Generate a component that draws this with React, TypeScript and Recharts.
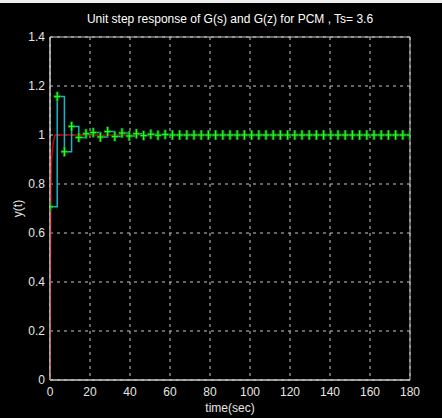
import {
  CartesianGrid,
  ComposedChart,
  Line,
  ReferenceArea,
  XAxis,
  YAxis,
} from "recharts";

const sampleTime = 3.6;

// discrete response G(z), one value per sample k*Ts (k = 0..50)
const discreteValues = [
  0.707, 1.157, 0.932, 1.035, 0.99, 1.005, 1.01, 0.992, 1.014, 0.994, 1.008, 0.996,
  1.005, 0.998, 1.003, 0.999, 1.002, 1, 1, 1, 1, 1, 1, 1, 1, 1, 1, 1, 1, 1, 1, 1, 1,
  1, 1, 1, 1, 1, 1, 1, 1, 1, 1, 1, 1, 1, 1, 1, 1, 1, 1,
];

// continuous response G(s)
const continuousTimes = [0, 0.2, 0.5, 0.8, 1.2, 1.8, 2.5, 4, 10, 180];
const continuousValues = [0, 0.45, 0.8, 0.9, 0.94, 0.975, 1.0, 1.0, 1.0, 1.0];

const xTicks = [0, 20, 40, 60, 80, 100, 120, 140, 160, 180];
const yTicks = [0, 0.2, 0.4, 0.6, 0.8, 1, 1.2, 1.4];

const discreteData = discreteValues.map((y, k) => ({ t: +(k * sampleTime).toFixed(1), y }));
const continuousData = continuousTimes.map((t, i) => ({ t, y: continuousValues[i] }));

const font = "'Liberation Sans Narrow', 'Liberation Sans', Arial, sans-serif";
const gridColor = "#c8c8c8";

function PlusMark(props: { cx?: number; cy?: number }) {
  const { cx, cy } = props;
  if (cx == null || cy == null) return null;
  return (
    <g>
      <line x1={cx} x2={cx} y1={cy - 5} y2={cy + 5} stroke="#0b6e0b" strokeWidth={3} />
      <line x1={cx - 3.5} x2={cx + 3.5} y1={cy} y2={cy} stroke="#0b6e0b" strokeWidth={3} />
      <line x1={cx} x2={cx} y1={cy - 4.5} y2={cy + 4.5} stroke="#22ff22" strokeWidth={1.2} />
      <line x1={cx - 3} x2={cx + 3} y1={cy} y2={cy} stroke="#22ff22" strokeWidth={1.2} />
    </g>
  );
}

export default function App() {
  return (
    <div
      style={{
        position: "fixed",
        left: 0,
        top: 0,
        width: 442,
        height: 418,
        background: "#000",
        fontFamily: font,
      }}
    >
      <div style={{ position: "absolute", left: 0, top: 0, width: 442, height: 3, background: "#eeeeee" }} />
      <div
        style={{
          position: "absolute",
          top: 12,
          left: 50,
          width: 360,
          textAlign: "center",
          color: "#ffffff",
          fontSize: 12,
          fontFamily: font,
        }}
      >
        Unit step response of G(s) and G(z) for PCM , Ts= 3.6
      </div>
      <ComposedChart
        width={442}
        height={418}
        margin={{ top: 37, right: 32, bottom: 0, left: 0 }}
        style={{ position: "absolute", left: 0, top: 0 }}
      >
        <CartesianGrid stroke={gridColor} strokeDasharray="3 4" />
        <XAxis
          dataKey="t"
          type="number"
          domain={[0, 180]}
          ticks={xTicks}
          allowDataOverflow
          height={38}
          axisLine={{ stroke: gridColor }}
          tickLine={false}
          tickSize={5}
          tickMargin={2}
          tick={{ fill: "#e6e6e6", fontSize: 12, fontFamily: font }}
          label={{
            value: "time(sec)",
            position: "insideBottom",
            offset: 6,
            fill: "#e6e6e6",
            fontSize: 12,
            fontFamily: font,
          }}
        />
        <YAxis
          type="number"
          domain={[0, 1.4]}
          ticks={yTicks}
          allowDataOverflow
          width={50}
          axisLine={{ stroke: gridColor }}
          tickLine={false}
          tickSize={3}
          tickMargin={2}
          tickFormatter={(v: number) => String(+v.toFixed(1))}
          tick={{ fill: "#e6e6e6", fontSize: 12, fontFamily: font }}
          label={{
            value: "y(t)",
            angle: -90,
            position: "insideLeft",
            offset: 18,
            fill: "#e6e6e6",
            fontSize: 12,
            fontFamily: font,
            style: { textAnchor: "middle" },
          }}
        />
        <ReferenceArea x1={0} x2={180} y1={0} y2={1.4} fill="none" stroke={gridColor} strokeWidth={1} />
        <Line
          data={continuousData}
          dataKey="y"
          type="linear"
          stroke="#c80000"
          strokeWidth={1.5}
          dot={false}
          isAnimationActive={false}
        />
        <Line
          data={discreteData}
          dataKey="y"
          type="stepAfter"
          stroke="#1ab4c4"
          strokeWidth={1.5}
          dot={(p: { cx?: number; cy?: number; index?: number }) => (
            <PlusMark key={`m-${p.index}`} cx={p.cx} cy={p.cy} />
          )}
          isAnimationActive={false}
        />
      </ComposedChart>
    </div>
  );
}
